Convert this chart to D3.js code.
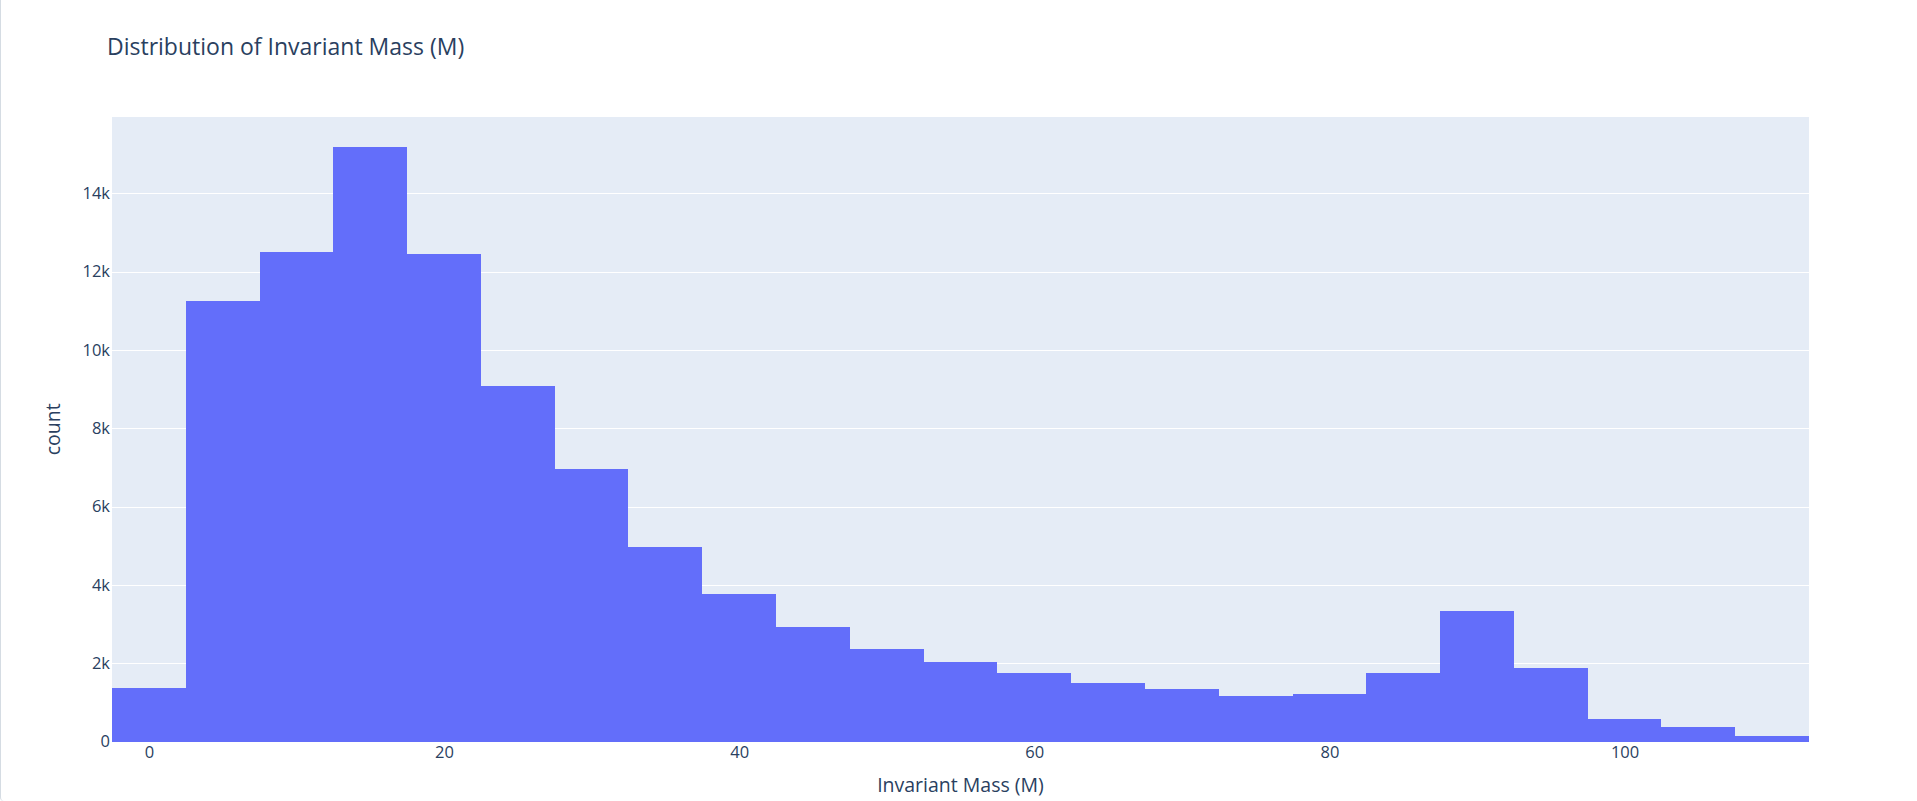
<!DOCTYPE html>
<html>
<head>
<meta charset="utf-8">
<script src="https://cdn.jsdelivr.net/npm/d3@7"></script>
<style>
  html, body { margin: 0; padding: 0; background: #fff; }
  #wrap { position: absolute; left: 0; top: 0; width: 1917px; height: 801px; box-sizing: border-box;
          border-left: 1px solid #d5dce3; border-bottom-left-radius: 4px; overflow: hidden; }
  svg { display: block; }
</style>
</head>
<body>
<div id="wrap"><svg id="chart" width="1917" height="801"></svg></div>
<script>
// ---- data ----
const chartTitle = "Distribution of Invariant Mass (M)";
const xAxisTitle = "Invariant Mass (M)";
const yAxisTitle = "count";
const binEdges = [-2.5, 2.5, 7.5, 12.5, 17.5, 22.5, 27.5, 32.5, 37.5, 42.5, 47.5, 52.5,
                  57.5, 62.5, 67.5, 72.5, 77.5, 82.5, 87.5, 92.5, 97.5, 102.5, 107.5, 112.5];
const counts = [1370, 11250, 12500, 15190, 12450, 9080, 6970, 4970, 3770, 2930, 2370, 2040,
                1760, 1500, 1350, 1170, 1220, 1760, 3340, 1880, 580, 380, 150];
const xTicks = [0, 20, 40, 60, 80, 100];
const yTicks = [0, 2000, 4000, 6000, 8000, 10000, 12000, 14000];
const yTickLabels = ["0", "2k", "4k", "6k", "8k", "10k", "12k", "14k"];

// ---- layout ----
const plot = { left: 111, right: 1808, top: 117, bottom: 741.5 };
const textColor = "#2a3f5f";
const fontFamily = '"Open Sans", verdana, arial, sans-serif';

const bins = counts.map((c, i) => ({ x0: binEdges[i], x1: binEdges[i + 1], count: c }));

const x = d3.scaleLinear()
  .domain([binEdges[0], binEdges[binEdges.length - 1]])
  .range([plot.left, plot.right]);
const y = d3.scaleLinear()
  .domain([0, d3.max(counts) * 1.05])
  .range([plot.bottom, plot.top]);

const svg = d3.select("#chart");

// plot background
svg.append("rect")
  .attr("x", plot.left).attr("y", plot.top)
  .attr("width", plot.right - plot.left).attr("height", plot.bottom - plot.top)
  .attr("fill", "#e5ecf6");

// grid lines
const yAxisGrid = d3.axisLeft(y).tickValues(yTicks.filter(v => v > 0))
  .tickSize(-(plot.right - plot.left)).tickFormat("");
const grid = svg.append("g").attr("transform", `translate(${plot.left},0)`).call(yAxisGrid);
grid.select(".domain").remove();
grid.selectAll("line").attr("stroke", "#ffffff").attr("stroke-width", 1)
  .attr("shape-rendering", "crispEdges");

// bars
svg.append("g").selectAll("rect").data(bins).join("rect")
  .attr("x", d => x(d.x0))
  .attr("width", d => x(d.x1) - x(d.x0))
  .attr("y", d => y(d.count))
  .attr("height", d => y(0) - y(d.count))
  .attr("fill", "#636efa")
  .attr("shape-rendering", "crispEdges");

// y axis
const yAxis = d3.axisLeft(y).tickValues(yTicks).tickSize(0).tickPadding(2)
  .tickFormat((d, i) => yTickLabels[i]);
const gy = svg.append("g").attr("transform", `translate(${plot.left},0)`).call(yAxis);
gy.select(".domain").remove();
gy.selectAll("text").attr("fill", textColor).style("font-family", fontFamily).style("font-size", "16.5px");

// x axis
const xAxis = d3.axisBottom(x).tickValues(xTicks).tickSize(0).tickPadding(5).tickFormat(d3.format("d"));
const gx = svg.append("g").attr("transform", `translate(0,${plot.bottom})`).call(xAxis);
gx.select(".domain").remove();
gx.selectAll("text").attr("fill", textColor).style("font-family", fontFamily).style("font-size", "16.5px");

// titles
svg.append("text")
  .attr("x", 106).attr("y", 55)
  .attr("fill", textColor).style("font-family", fontFamily).style("font-size", "23px")
  .text(chartTitle);

svg.append("text")
  .attr("x", (plot.left + plot.right) / 2).attr("y", 792)
  .attr("text-anchor", "middle")
  .attr("fill", textColor).style("font-family", fontFamily).style("font-size", "19.5px")
  .text(xAxisTitle);

svg.append("text")
  .attr("transform", `translate(59,${(plot.top + plot.bottom) / 2}) rotate(-90)`)
  .attr("text-anchor", "middle")
  .attr("fill", textColor).style("font-family", fontFamily).style("font-size", "19.5px")
  .text(yAxisTitle);
</script>
</body>
</html>
